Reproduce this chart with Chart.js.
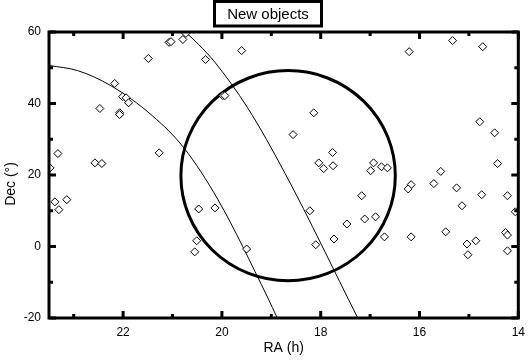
<!DOCTYPE html>
<html>
<head>
<meta charset="utf-8">
<script src="https://cdn.jsdelivr.net/npm/chart.js@4"></script>
<style>
  body { margin: 0; background: #fff; }
  canvas { display: block; }
</style>
</head>
<body>
<canvas id="myChart" width="532" height="361"></canvas>
<script>
const FONT = '"Liberation Sans", Arial, sans-serif'

// objects
const objRA = [21.07, 21.03, 20.79, 20.73, 21.49, 22.17, 22.01, 21.94, 21.89, 22.47,
  22.07, 22.07, 23.32, 21.27, 22.57, 22.43, 23.48, 23.38, 23.14, 23.30,
  20.47, 20.51, 20.55, 19.60, 20.33, 19.98, 19.94, 18.14, 18.56, 17.76,
  18.04, 17.94, 17.75, 20.14, 19.50, 18.22, 17.47, 17.73, 18.10, 17.17,
  15.33, 16.21, 14.72, 14.78, 14.48, 14.42, 15.57, 16.93, 16.99, 16.77,
  16.65, 16.17, 16.23, 15.71, 15.25, 14.74, 14.22, 15.14, 14.06, 17.11,
  16.89, 16.71, 16.17, 15.47, 15.04, 14.86, 14.26, 14.22, 15.02, 14.22]
const objDec = [57.1, 57.3, 57.9, 59.6, 52.6, 45.6, 41.9, 41.6, 40.2, 38.6,
  37.4, 36.9, 26.0, 26.2, 23.4, 23.2, 22.0, 12.5, 13.1, 10.3,
  10.5, 1.6, -1.5, 54.8, 52.3, 42.2, 42.2, 37.4, 31.3, 26.3,
  23.4, 21.8, 22.6, 10.8, -0.7, 10.0, 6.3, 2.1, 0.5, 14.2,
  57.6, 54.5, 55.9, 34.9, 31.8, 23.2, 21.0, 23.4, 21.2, 22.3,
  22.0, 17.3, 16.1, 17.6, 16.4, 14.5, 14.2, 11.4, 9.7, 7.7,
  8.3, 2.7, 2.7, 4.1, 0.7, 1.6, 3.9, 3.2, -2.3, -1.2]

const curve1RA = [23.48, 22.92, 22.25, 21.41, 20.77, 20.08, 19.08, 18.88]
const curve1Dec = [50.6, 49.2, 45.0, 36.6, 27.6, 13.1, -14.1, -20]

const curve2RA = [20.73, 20.47, 20.14, 19.48, 18.72, 17.25]
const curve2Dec = [59.9, 56.5, 51.5, 38.8, 20.4, -20]

// field circle: centre and radii in data units
const fieldRA = 18.66
const fieldDec = 19.8
const fieldRadiusRA = 2.17
const fieldRadiusDec = 29.4

const raTicks = [22, 20, 18, 16, 14]
const raMinor = [23, 21, 19, 17, 15]
const decTicks = [-20, 0, 20, 40, 60]
const decMinor = [-10, 10, 30, 50]

const toPoints = (xs, ys) => xs.map((x, i) => ({x: x, y: ys[i]}))

const framePlugin = {
  id: 'frame',
  beforeDatasetsDraw(chart) {
    const ctx = chart.ctx
    const x = chart.scales.x, y = chart.scales.y
    const cx = x.getPixelForValue(fieldRA), cy = y.getPixelForValue(fieldDec)
    const rx = Math.abs(x.getPixelForValue(fieldRA + fieldRadiusRA) - cx)
    const ry = Math.abs(y.getPixelForValue(fieldDec + fieldRadiusDec) - cy)
    ctx.save()
    ctx.strokeStyle = '#000'
    ctx.lineWidth = 3
    ctx.beginPath()
    ctx.ellipse(cx, cy, rx, ry, 0, 0, Math.PI * 2)
    ctx.stroke()
    ctx.restore()
  },
  afterDraw(chart) {
    const ctx = chart.ctx
    const a = chart.chartArea
    const x = chart.scales.x, y = chart.scales.y
    ctx.save()
    ctx.strokeStyle = '#000'
    ctx.fillStyle = '#000'
    ctx.lineWidth = 3
    ctx.strokeRect(a.left, a.top, a.right - a.left, a.bottom - a.top)

    // inward ticks on all four sides
    ctx.beginPath()
    const xt = (v, len) => {
      const px = x.getPixelForValue(v)
      ctx.moveTo(px, a.bottom); ctx.lineTo(px, a.bottom - len)
      ctx.moveTo(px, a.top); ctx.lineTo(px, a.top + len)
    }
    const yt = (v, len) => {
      const py = y.getPixelForValue(v)
      ctx.moveTo(a.left, py); ctx.lineTo(a.left + len, py)
      ctx.moveTo(a.right, py); ctx.lineTo(a.right - len, py)
    }
    raTicks.forEach(v => xt(v, 7))
    raMinor.forEach(v => xt(v, 4))
    decTicks.forEach(v => yt(v, 7))
    decMinor.forEach(v => yt(v, 4))
    ctx.stroke()

    // title box
    ctx.strokeRect(214.5, 1.5, 107, 24.5)
    ctx.font = '15px ' + FONT
    ctx.textAlign = 'center'
    ctx.textBaseline = 'alphabetic'
    ctx.fillText('New objects', 268, 19)

    // axis titles
    ctx.font = '14px ' + FONT
    ctx.fillText('RA (h)', (a.left + a.right) / 2, 352)
    ctx.translate(15, 184)
    ctx.rotate(-Math.PI / 2)
    ctx.fillText('Dec (°)', 0, 0)
    ctx.restore()
  }
}

new Chart(document.getElementById('myChart'), {
  type: 'scatter',
  data: {
    datasets: [
      {
        label: 'objects',
        data: toPoints(objRA, objDec),
        pointStyle: 'rectRot',
        pointRadius: 4,
        pointBorderWidth: 1,
        pointBorderColor: '#000',
        pointBackgroundColor: '#fff'
      },
      {
        label: 'curve 1',
        data: toPoints(curve1RA, curve1Dec),
        showLine: true,
        pointRadius: 0,
        borderColor: '#000',
        borderWidth: 1,
        cubicInterpolationMode: 'monotone'
      },
      {
        label: 'curve 2',
        data: toPoints(curve2RA, curve2Dec),
        showLine: true,
        pointRadius: 0,
        borderColor: '#000',
        borderWidth: 1,
        cubicInterpolationMode: 'monotone'
      }
    ]
  },
  options: {
    responsive: false,
    animation: false,
    layout: { padding: { top: 32, right: 7 } },
    plugins: {
      legend: { display: false },
      tooltip: { enabled: false }
    },
    scales: {
      x: {
        type: 'linear',
        reverse: true,
        min: 14,
        max: 23.5,
        grid: { display: false, drawTicks: false },
        border: { display: false },
        afterBuildTicks: s => { s.ticks = raTicks.map(v => ({value: v})) },
        afterFit: s => { s.height = 43 },
        ticks: { color: '#000', font: { family: FONT, size: 12 }, padding: 7, maxRotation: 0, autoSkip: false }
      },
      y: {
        min: -20,
        max: 60,
        grid: { display: false, drawTicks: false },
        border: { display: false },
        afterBuildTicks: s => { s.ticks = decTicks.map(v => ({value: v})) },
        afterFit: s => { s.width = 49 },
        ticks: { color: '#000', font: { family: FONT, size: 12 }, padding: 8 }
      }
    }
  },
  plugins: [framePlugin]
})
</script>
</body>
</html>
